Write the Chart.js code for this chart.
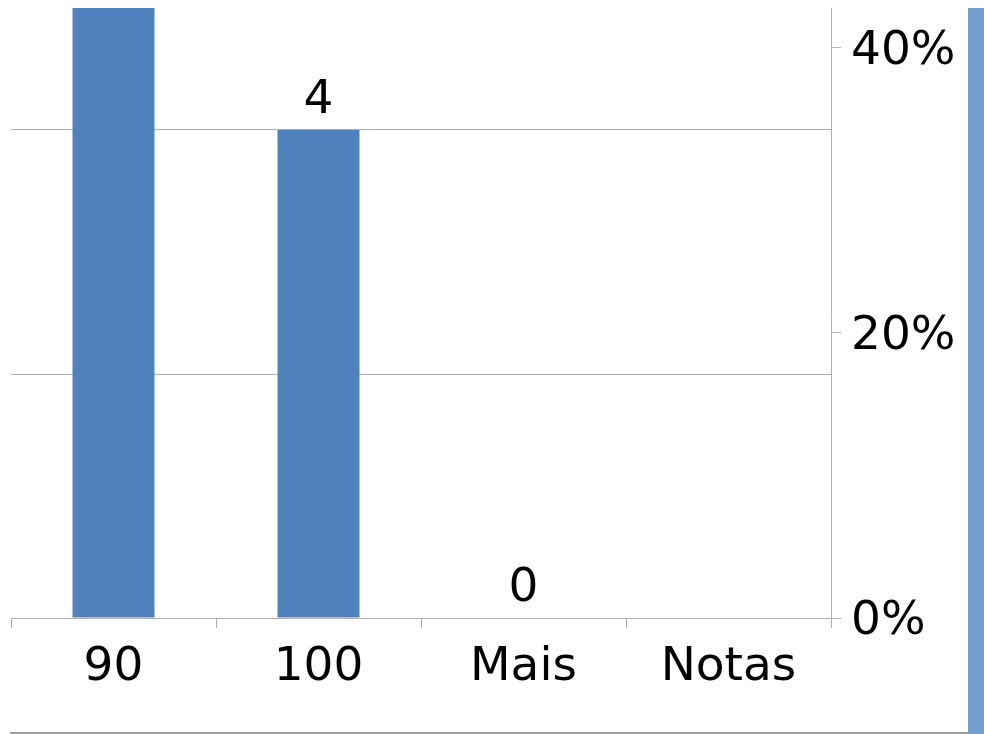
<!DOCTYPE html>
<html>
<head>
<meta charset="utf-8">
<script src="https://cdn.jsdelivr.net/npm/chart.js@4.4.1/dist/chart.umd.min.js"></script>
<style>
  body { margin: 0; background: #fff; }
  #wrap { position: relative; width: 984px; height: 734px; overflow: hidden; background: #fff; }
  #grafCanvas { position: absolute; left: 0; top: 0; }
  #trak { position: absolute; left: 968px; top: 8px; width: 16px; height: 726px; background: #729fcf; }
  #crta { position: absolute; left: 10px; top: 732px; width: 958px; height: 2px; background: #a0a0a0; }
</style>
</head>
<body>
<div id="wrap">
  <canvas id="grafCanvas" width="968" height="734"></canvas>
  <div id="trak"></div>
  <div id="crta"></div>
</div>
<script>
const kategorije = ["90", "100", "Mais", "Notas"];
const frekvence = [7, 4, 0, null];
const levoTicks = [0, 2, 4];
const desnoTicks = [0, 20, 40];

const FONT = "'DejaVu Sans', sans-serif";
const SIVA = "#b0b0b0";
const VEL = 47;

const oznakePlugin = {
  id: "oznake",
  afterDatasetsDraw(chart) {
    const ctx = chart.ctx;
    const meta = chart.getDatasetMeta(0);
    ctx.save();
    ctx.font = VEL + "px " + FONT;
    ctx.fillStyle = "#000";
    ctx.textAlign = "center";
    ctx.textBaseline = "alphabetic";
    meta.data.forEach((bar, i) => {
      const v = frekvence[i];
      if (v == null) return;
      const y = bar.y - 17;
      if (y - 36 < chart.chartArea.top) return;
      ctx.fillText(String(v), bar.x, y);
    });
    ctx.restore();
  },
};

function brezRoba(axis) {
  axis.paddingTop = 0;
  axis.paddingBottom = 0;
  axis.paddingLeft = 0;
  axis.paddingRight = 0;
}

new Chart(document.getElementById("grafCanvas").getContext("2d"), {
  type: "bar",
  data: {
    labels: kategorije,
    datasets: [
      {
        label: "Frequência",
        data: frekvence,
        backgroundColor: "#4f81bd",
        barPercentage: 0.4,
        categoryPercentage: 1.0,
        yAxisID: "y",
      },
    ],
  },
  options: {
    responsive: false,
    animation: false,
    layout: { padding: { top: 8, left: 11, right: 0, bottom: 0 } },
    plugins: { legend: { display: false }, tooltip: { enabled: false } },
    scales: {
      x: {
        grid: {
          drawOnChartArea: false,
          drawTicks: true,
          tickLength: 10,
          color: SIVA,
        },
        border: { display: true, color: SIVA, width: 1 },
        ticks: {
          color: "#000",
          font: { family: FONT, size: VEL },
          padding: 12,
          maxRotation: 0,
        },
        afterFit(axis) {
          axis.height = 116;
          brezRoba(axis);
        },
      },
      y: {
        position: "left",
        min: 0,
        max: 5,
        afterBuildTicks(axis) {
          axis.ticks = levoTicks.map((v) => ({ value: v }));
        },
        grid: { color: SIVA, drawTicks: false },
        border: { display: false },
        ticks: { display: false },
        afterFit(axis) {
          axis.width = 0;
          brezRoba(axis);
        },
      },
      y1: {
        position: "right",
        min: 0,
        max: 42.8,
        afterBuildTicks(axis) {
          axis.ticks = desnoTicks.map((v) => ({ value: v }));
        },
        grid: {
          drawOnChartArea: false,
          drawTicks: true,
          tickLength: 10,
          color: SIVA,
        },
        border: { display: true, color: SIVA, width: 1 },
        ticks: {
          color: "#000",
          font: { family: FONT, size: VEL },
          padding: 10,
          labelOffset: 4,
          callback: (v) => v + "%",
        },
        afterFit(axis) {
          axis.width = 137;
          brezRoba(axis);
        },
      },
    },
  },
  plugins: [oznakePlugin],
});
</script>
</body>
</html>
